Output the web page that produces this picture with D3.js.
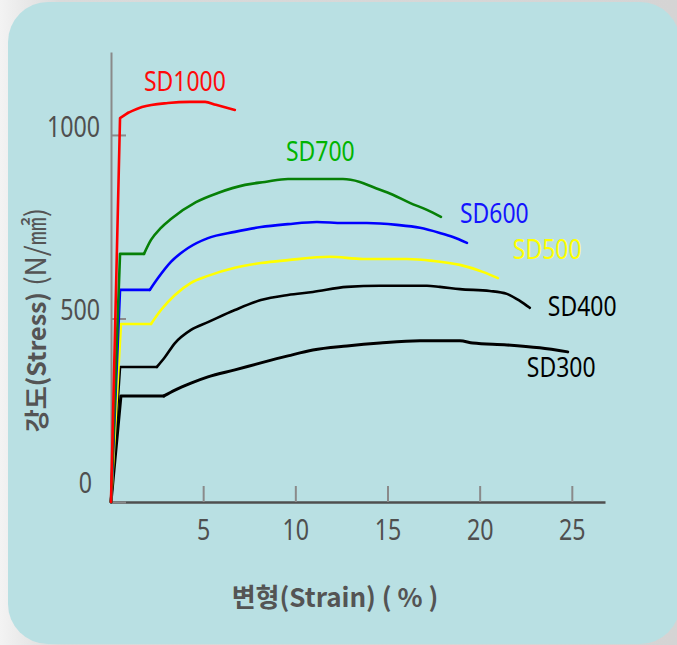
<!DOCTYPE html>
<html>
<head>
<meta charset="utf-8">
<script src="https://cdn.jsdelivr.net/npm/d3@7"></script>
<style>
  html, body { margin: 0; padding: 0; }
  body {
    width: 677px;
    height: 645px;
    overflow: hidden;
    background: linear-gradient(to right, #f3f3f3 0px, #dadada 60px, #d5d4d4 100%);
  }
  .tick text, .grade-label { font-family: 'Noto Sans', sans-serif; }
  .title { font-family: 'Noto Sans CJK KR', 'Noto Sans', sans-serif; fill: #545454; }
</style>
</head>
<body>
<div id="chart"></div>
<script>
// tick values
const strainTicks = [5, 10, 15, 20, 25];
const stressTicks = [0, 500, 1000];

// series (strain %, stress N/mm2)
const grades = ['SD300', 'SD400', 'SD500', 'SD600', 'SD700', 'SD1000'];

const sd300Strain = [0, 0.54, 2.87, 3.47, 4.34, 5.26, 6.72, 8.13, 9.6, 10.95, 12.8, 14.59, 16.76, 18.93, 19.63, 21.48, 23.26, 24.78];
const sd300Stress = [0, 289, 289, 305, 324, 341, 360, 379, 398, 414, 425, 433, 439, 439, 433, 428, 420, 409];

const sd400Strain = [0, 0.49, 2.49, 2.93, 3.47, 4.34, 5.26, 6.72, 8.13, 9.6, 10.95, 12.8, 14.59, 17.14, 17.84, 18.93, 20.55, 21.48, 22.18, 22.72];
const sd400Stress = [0, 368, 368, 395, 433, 469, 490, 523, 550, 564, 572, 586, 589, 589, 586, 580, 575, 567, 548, 529];

const sd500Strain = [0, 0.54, 2.17, 2.71, 3.47, 4.34, 5.26, 6.72, 8.13, 9.6, 11.88, 13.67, 16.05, 17.46, 18.93, 20.17, 20.99];
const sd500Stress = [0, 485, 485, 523, 564, 597, 616, 638, 651, 659, 668, 662, 662, 657, 646, 627, 610];

const sd600Strain = [0, 0.49, 2.11, 2.55, 3.25, 4.18, 5.26, 6.72, 8.13, 9.6, 11.17, 12.58, 13.88, 15.51, 16.76, 17.84, 18.55, 19.31];
const sd600Stress = [0, 578, 578, 610, 654, 692, 719, 736, 749, 757, 763, 760, 760, 755, 747, 733, 722, 706];

const sd700Strain = [0, 0.49, 1.79, 2.17, 2.71, 3.25, 4.61, 5.8, 7.27, 8.35, 9.6, 10.95, 12.58, 13.5, 14.21, 15.29, 16.21, 17.14, 17.9];
const sd700Stress = [0, 676, 676, 714, 747, 771, 817, 842, 864, 872, 880, 880, 880, 872, 858, 837, 815, 796, 777];

const sd1000Strain = [0, 0.49, 0.92, 1.68, 3.09, 4.28, 5.1, 5.69, 6.72];
const sd1000Stress = [0, 1046, 1060, 1076, 1087, 1090, 1090, 1082, 1068];

// where each grade name sits, in data units
const labelStrain = [22.56, 23.7, 21.8, 18.93, 9.49, 1.79];
const labelStress = [341, 507, 662, 760, 929, 1120];

const strainSeries = [sd300Strain, sd400Strain, sd500Strain, sd600Strain, sd700Strain, sd1000Strain];
const stressSeries = [sd300Stress, sd400Stress, sd500Stress, sd600Stress, sd700Stress, sd1000Stress];

const lineColors = { SD300: '#000', SD400: '#000', SD500: '#ffff00', SD600: '#0000ff', SD700: '#078007', SD1000: '#ff0000' };
const labelColors = { SD300: '#000', SD400: '#000', SD500: '#ffff00', SD600: '#1414ff', SD700: '#00b400', SD1000: '#ff0a0a' };

const width = 677;
const height = 645;
const narrow = 0.8;

const svg = d3.select('#chart')
  .append('svg')
    .attr('width', width)
    .attr('height', height);

// card
svg.append('rect')
  .attr('x', 8)
  .attr('y', 2)
  .attr('width', 672)
  .attr('height', 642)
  .attr('rx', 40)
  .attr('fill', '#b9e0e3');

const scaleX = d3.scaleLinear()
  .domain([0, 26.8])
  .range([111, 605]);

const scaleY = d3.scaleLinear()
  .domain([0, 1226])
  .range([502, 52]);

const xAxis = d3.axisBottom(scaleX)
  .tickValues(strainTicks)
  .tickFormat(d3.format('d'))
  .tickSizeInner(-16)
  .tickSizeOuter(0)
  .tickPadding(17);

const yAxis = d3.axisLeft(scaleY)
  .tickValues(stressTicks)
  .tickFormat(d3.format('d'))
  .tickSizeInner(-15)
  .tickSizeOuter(0)
  .tickPadding(13);

const gx = svg.append('g')
  .attr('class', 'axis axis--x')
  .attr('transform', `translate(0, ${scaleY(0)})`)
  .call(xAxis);

gx.select('.domain').attr('stroke', '#4f4f4f').attr('stroke-width', 2.6);
gx.selectAll('.tick line').attr('stroke', '#8a8a8a').attr('stroke-width', 2);
gx.selectAll('.tick text')
  .attr('fill', '#4f4f4f')
  .attr('font-size', 29)
  .attr('transform', `scale(${narrow}, 1)`);

const gy = svg.append('g')
  .attr('class', 'axis axis--y')
  .attr('transform', `translate(${scaleX(0)}, 0)`)
  .call(yAxis);

gy.select('.domain').attr('stroke', '#8a8a8a').attr('stroke-width', 2);
gy.selectAll('.tick line').attr('stroke', '#8a8a8a').attr('stroke-width', 2);
gy.selectAll('.tick text')
  .attr('fill', '#4f4f4f')
  .attr('font-size', 29)
  .attr('x', d => (d === 0 ? -19 : -11) / narrow)
  .attr('y', d => d === 0 ? -19 : -8)
  .attr('transform', `scale(${narrow}, 1)`);

// curves: straight elastic rise and yield plateau, smooth hardening part
const straight = d3.line()
  .x(d => scaleX(d[0]))
  .y(d => scaleY(d[1]));

const smooth = d3.line()
  .curve(d3.curveMonotoneX)
  .x(d => scaleX(d[0]))
  .y(d => scaleY(d[1]));

const series = grades.map((name, i) => ({
  name,
  points: d3.zip(strainSeries[i], stressSeries[i]),
  labelAt: [labelStrain[i], labelStress[i]]
}));

const curve = svg.append('g')
  .attr('class', 'curves')
  .selectAll('g')
  .data(series)
  .join('g')
    .attr('fill', 'none')
    .attr('stroke', d => lineColors[d.name])
    .attr('stroke-width', d => d.name === 'SD300' ? 3 : 2.6)
    .attr('stroke-linejoin', 'round')
    .attr('stroke-linecap', 'round');

curve.append('path').attr('d', d => straight(d.points.slice(0, 3)));
curve.append('path').attr('d', d => smooth(d.points.slice(2)));

svg.append('g')
  .attr('class', 'labels')
  .selectAll('text')
  .data(series)
  .join('text')
    .attr('class', 'grade-label')
    .attr('transform', d => `translate(${scaleX(d.labelAt[0])}, ${scaleY(d.labelAt[1])}) scale(0.85, 1)`)
    .attr('fill', d => labelColors[d.name])
    .attr('font-size', 27)
    .text(d => d.name);

// axis titles
svg.append('text')
  .attr('class', 'title')
  .attr('x', 335)
  .attr('y', 607)
  .attr('text-anchor', 'middle')
  .attr('font-size', 26)
  .attr('font-weight', 'bold')
  .attr('xml:space', 'preserve')
  .text('변형(Strain) ( % )');

const yTitle = svg.append('text')
  .attr('class', 'title')
  .attr('transform', 'translate(46, 320) rotate(-90)')
  .attr('text-anchor', 'middle')
  .attr('font-size', 25);

yTitle.append('tspan').attr('font-weight', 'bold').text('강도(Stress)');
yTitle.append('tspan').attr('font-weight', 'normal').attr('font-size', 28).text(' (N/㎟)');
</script>
</body>
</html>
